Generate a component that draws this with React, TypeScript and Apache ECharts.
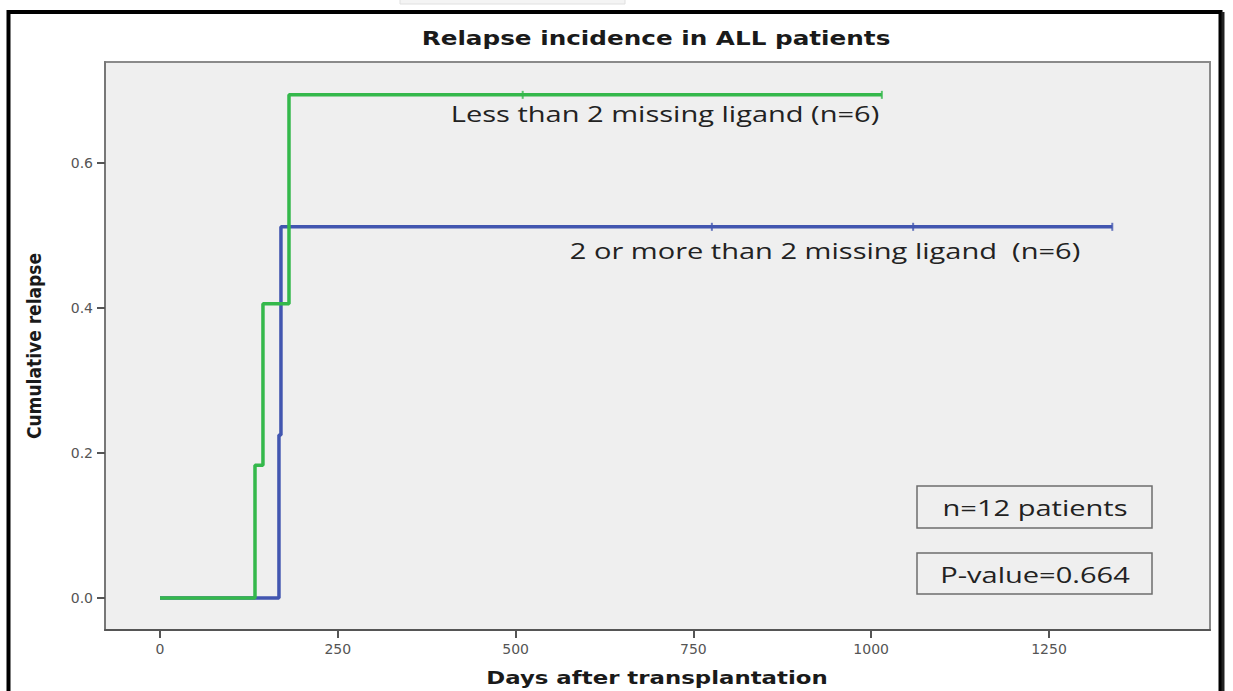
import React, { useEffect, useRef } from "react";
import * as echarts from "echarts";

const xTicks = [0, 250, 500, 750, 1000, 1250];
const yTicks = [0, 0.2, 0.4, 0.6];

// Green: Less than 2 missing ligand (n=6)
const greenSteps: [number, number][] = [
  [0, 0],
  [133.6, 0.183],
  [144.8, 0.406],
  [181.4, 0.694],
  [1015, 0.694],
];
const greenCensor: [number, number][] = [
  [510, 0.694],
  [1015, 0.694],
];

// Blue: 2 or more than 2 missing ligand (n=6)
const blueSteps: [number, number][] = [
  [0, 0],
  [167.3, 0.225],
  [170.1, 0.512],
  [1339, 0.512],
];
const blueCensor: [number, number][] = [
  [776, 0.512],
  [1059, 0.512],
  [1339, 0.512],
];

const titleText = "Relapse incidence in ALL patients";
const xName = "Days after transplantation";
const yName = "Cumulative relapse";
const greenLabel = "Less than 2 missing ligand (n=6)";
const blueLabel = "2 or more than 2 missing ligand  (n=6)";
const boxTexts = ["n=12 patients", "P-value=0.664"];

const GREEN = "#34b84b";
const BLUE = "#4256b0";

export default function App() {
  const ref = useRef<HTMLDivElement>(null);
  useEffect(() => {
    if (!ref.current) return;
    const chart = echarts.init(ref.current, null, { renderer: "svg" });
    const annFont = '"Open Sans", "Noto Sans", sans-serif';
    const annText = (x: number, y: number, text: string) => ({
      type: "text",
      x,
      y,
      scaleX: 1.32,
      style: {
        text,
        fontFamily: annFont,
        fontSize: 22,
        fill: "#222",
        align: "center",
        verticalAlign: "middle",
      },
      z: 11,
    });
    chart.setOption({
      animation: false,
      backgroundColor: "#ffffff",
      grid: {
        left: 105,
        top: 62,
        width: 1105,
        height: 568,
        show: true,
        backgroundColor: "#efefef",
        borderColor: "#8a8a8a",
        borderWidth: 2,
      },
      xAxis: {
        type: "value",
        min: -77.3,
        max: 1476.4,
        splitLine: { show: false },
        axisLine: { show: true, onZero: false, lineStyle: { color: "#555", width: 2 } },
        axisTick: {
          show: true,
          customValues: xTicks,
          length: 8,
          lineStyle: { color: "#555", width: 2 },
        },
        axisLabel: {
          customValues: xTicks,
          formatter: (v: number) => String(v),
          fontFamily: '"DejaVu Sans", sans-serif',
          fontSize: 14,
          color: "#555",
          margin: 12,
        },
      },
      yAxis: {
        type: "value",
        min: -0.0441,
        max: 0.7393,
        name: yName,
        nameLocation: "middle",
        nameGap: 62,
        nameTextStyle: {
          fontFamily: '"Liberation Sans Narrow", "DejaVu Sans Condensed", sans-serif',
          fontWeight: "bold",
          fontSize: 19,
          color: "#1a1a1a",
        },
        splitLine: { show: false },
        axisLine: { show: true, onZero: false, lineStyle: { color: "#777", width: 2 } },
        axisTick: {
          show: true,
          customValues: yTicks,
          length: 8,
          lineStyle: { color: "#555", width: 2 },
        },
        axisLabel: {
          customValues: yTicks,
          formatter: (v: number) => v.toFixed(1),
          fontFamily: '"DejaVu Sans", sans-serif',
          fontSize: 14,
          color: "#555",
          margin: 12,
        },
      },
      series: [
        {
          type: "line",
          step: "end",
          data: blueSteps,
          showSymbol: false,
          lineStyle: { color: BLUE, width: 3.5 },
          z: 2,
        },
        {
          type: "scatter",
          data: blueCensor,
          symbol: "rect",
          symbolSize: [2, 8],
          itemStyle: { color: BLUE },
          z: 3,
        },
        {
          type: "line",
          step: "end",
          data: greenSteps,
          showSymbol: false,
          lineStyle: { color: GREEN, width: 3.5 },
          z: 4,
        },
        {
          type: "scatter",
          data: greenCensor,
          symbol: "rect",
          symbolSize: [2, 8],
          itemStyle: { color: GREEN },
          z: 5,
        },
      ],
      graphic: [
        {
          type: "rect",
          shape: { x: 400, y: -6, width: 225, height: 10 },
          style: { fill: "#f4f4f4", stroke: "#e0e0e0", lineWidth: 1 },
          z: 1,
        },
        {
          type: "rect",
          shape: { x: 8.5, y: 12, width: 1212, height: 700 },
          style: { fill: "none", stroke: "#000", lineWidth: 4 },
          z: 10,
        },
        {
          type: "line",
          shape: { x1: 1223, y1: 12, x2: 1223, y2: 700 },
          style: { stroke: "#222", lineWidth: 3 },
          z: 10,
        },
        {
          type: "text",
          x: 656,
          y: 39,
          scaleX: 1.3,
          style: {
            text: titleText,
            fontFamily: '"DejaVu Sans", sans-serif',
            fontWeight: "bold",
            fontSize: 19,
            fill: "#1a1a1a",
            align: "center",
            verticalAlign: "middle",
          },
          z: 11,
        },
        {
          type: "text",
          x: 657,
          y: 678,
          scaleX: 1.27,
          style: {
            text: xName,
            fontFamily: '"DejaVu Sans", sans-serif',
            fontWeight: "bold",
            fontSize: 18,
            fill: "#1a1a1a",
            align: "center",
            verticalAlign: "middle",
          },
          z: 11,
        },
        annText(665, 113, greenLabel),
        annText(825, 250, blueLabel),
        {
          type: "rect",
          shape: { x: 917, y: 486, width: 235, height: 42 },
          style: { fill: "#efefef", stroke: "#6e6e6e", lineWidth: 1.5 },
          z: 10,
        },
        annText(1035, 507, boxTexts[0]),
        {
          type: "rect",
          shape: { x: 917, y: 553, width: 235, height: 41 },
          style: { fill: "#efefef", stroke: "#6e6e6e", lineWidth: 1.5 },
          z: 10,
        },
        annText(1035, 574, boxTexts[1]),
      ],
    });
    return () => chart.dispose();
  }, []);
  return (
    <div
      ref={ref}
      style={{ position: "absolute", left: 0, top: 0, width: 1233, height: 691 }}
    />
  );
}
